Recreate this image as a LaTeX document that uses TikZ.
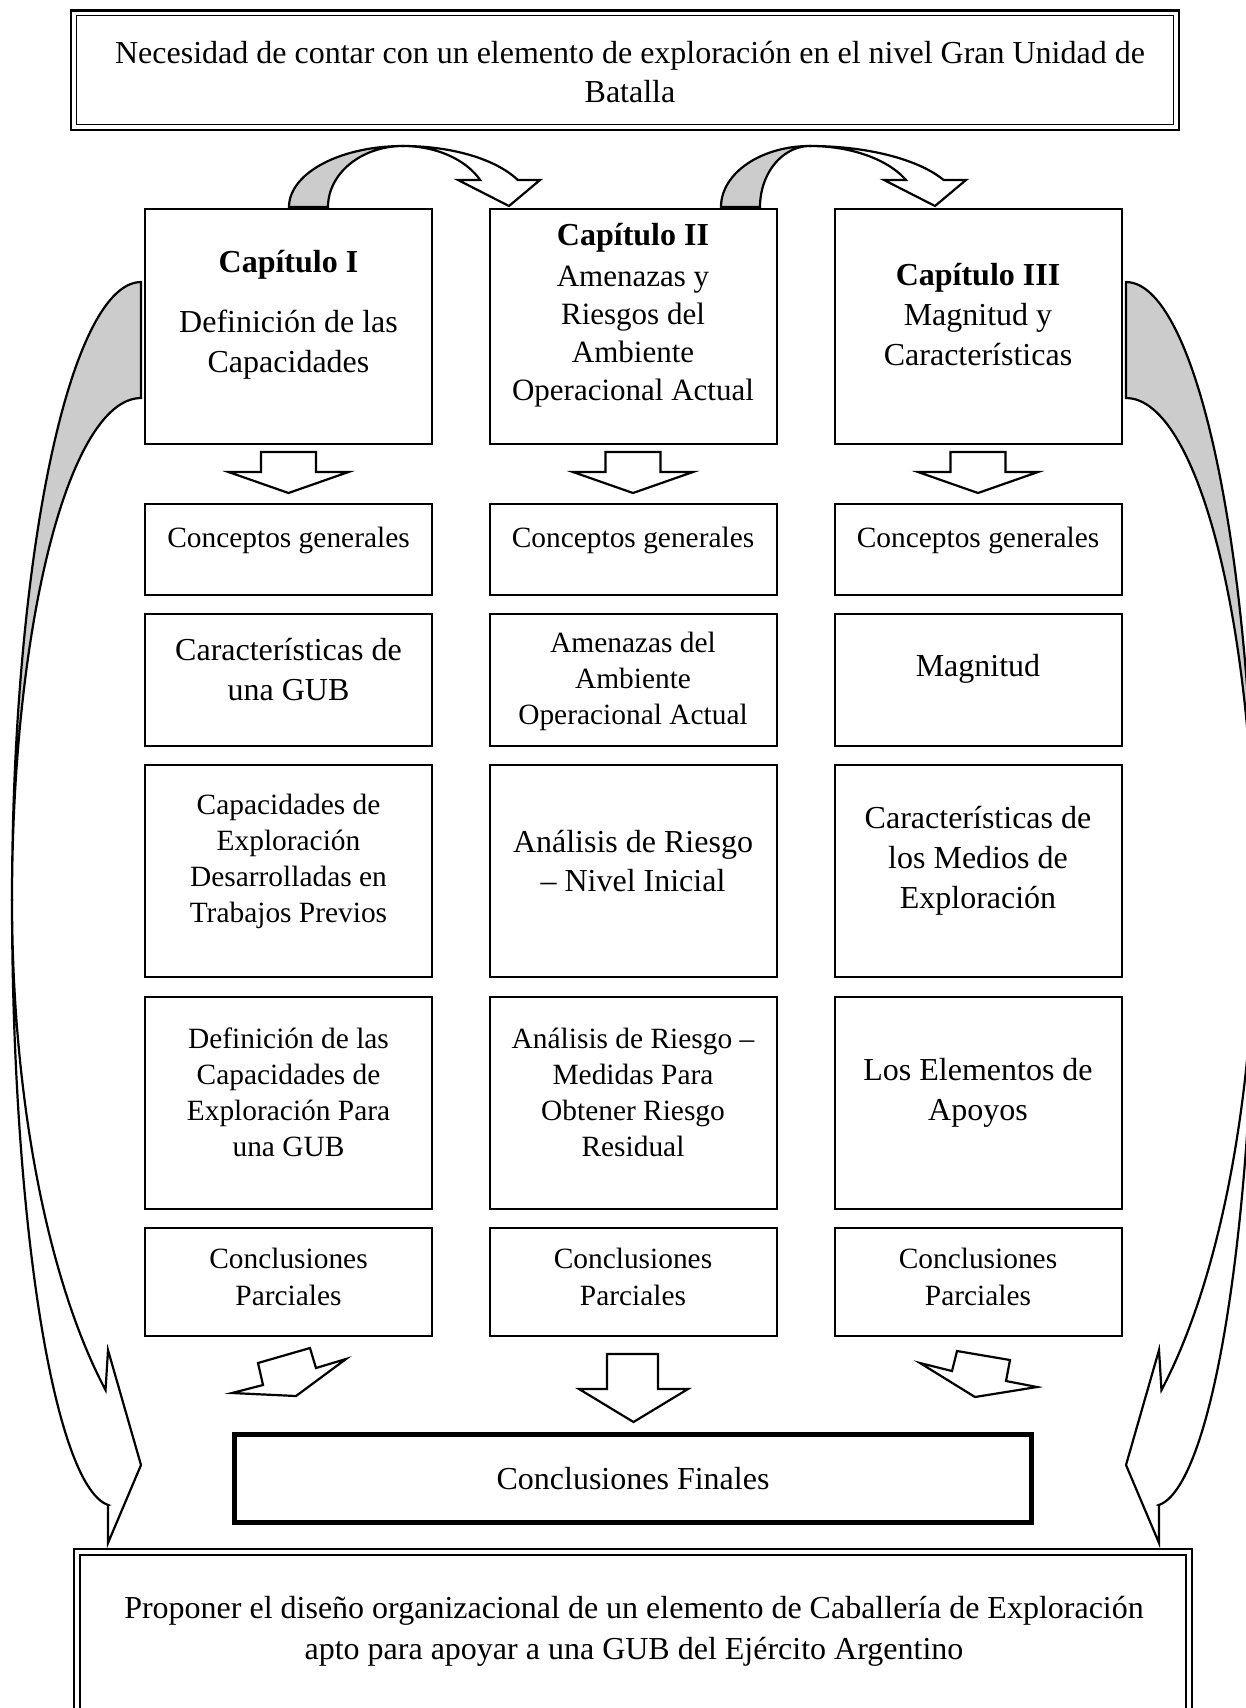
\documentclass[tikz,border=0pt]{standalone}
\usepackage{fontspec}
\setmainfont{Liberation Serif}
\definecolor{shade}{HTML}{CCCCCC}
\tikzset{
  box/.style={draw, line width=1pt, minimum width=143.5pt, inner sep=0pt, outer sep=0pt},
  txt/.style={align=center, inner sep=0pt},
  big/.style={font=\fontsize{16pt}{20pt}\selectfont},
  sml/.style={font=\fontsize{14.7pt}{18pt}\selectfont},
  blk/.style={draw, line width=1.1pt, fill=white, line join=miter},
  back/.style={draw, line width=1.1pt, fill=shade, line join=miter},
}
\newcommand\mysideband{%
  \filldraw[back] (141,282) -- plot[domain=90:0, samples=60] ({141-129*cos(\x)},{900-618*sin(\x)}) -- plot[domain=0:90, samples=60] ({141-129*cos(\x)},{900-502*sin(\x)}) -- cycle;
  \filldraw[blk] plot[domain=0:55.6, samples=60] ({227-215*cos(\x)},{900+594*sin(\x)}) -- (108,1350) -- (141,1465) -- (108,1543) -- (108,1505) -- plot[domain=86.7:0, samples=60] ({114-102*cos(\x)},{900+606*sin(\x)}) -- cycle;
}
\begin{document}
\begin{tikzpicture}[x=0.5pt, y=-0.5pt]
\useasboundingbox (0,0) rectangle (1246,1708);
\clip (0,0) rectangle (1246,1708);

% ---- top box (double border)
\node[draw, line width=1.3pt, inner sep=0pt, outer sep=0pt, minimum width=554pt, minimum height=59.75pt] (top) at (625,70.25) {};
\draw[line width=0.5pt] ([shift={(2.6pt,-2.6pt)}]top.north west) rectangle ([shift={(-2.6pt,2.6pt)}]top.south east);
\node[txt, font=\fontsize{16pt}{19.5pt}\selectfont] (toptxt) at (630,72) {Necesidad de contar con un elemento de exploración en el nivel Gran Unidad de\\Batalla};

% ---- chapter boxes
\node[box, minimum height=117.5pt] (c1) at (288.5,326.5) {};
\node[box, minimum height=117.5pt] (c2) at (633,326.5) {};
\node[box, minimum height=117.5pt] (c3) at (978,326.5) {};
\node[txt, big] (c1t) at (288.5,315) {\textbf{Capítulo I}\\[10pt]Definición de las\\Capacidades};
\node[txt, font=\fontsize{15.5pt}{19pt}\selectfont] (c2t) at (633,315) {\fontsize{16pt}{19pt}\selectfont\textbf{Capítulo II}\\[1.5pt]Amenazas y\\Riesgos del\\Ambiente\\Operacional Actual};
\node[txt, big] (c3t) at (978,315) {\textbf{Capítulo III}\\Magnitud y\\Características};

% ---- row: conceptos generales
\node[box, minimum height=45.5pt] (k1) at (288.5,549.5) {};
\node[box, minimum height=45.5pt] (k2) at (633,549.5) {};
\node[box, minimum height=45.5pt] (k3) at (978,549.5) {};
\node[txt, sml] (k1t) at (288.5,540) {Conceptos generales};
\node[txt, sml] (k2t) at (633,540) {Conceptos generales};
\node[txt, sml] (k3t) at (978,540) {Conceptos generales};

% ---- row 2
\node[box, minimum height=66pt] (r21) at (288.5,680) {};
\node[box, minimum height=66pt] (r22) at (633,680) {};
\node[box, minimum height=66pt] (r23) at (978,680) {};
\node[txt, big] (r21t) at (288.5,670) {Características de\\una GUB};
\node[txt, sml] (r22t) at (633,681) {Amenazas del\\Ambiente\\Operacional Actual};
\node[txt, big] (r23t) at (978,669) {Magnitud};

% ---- row 3
\node[box, minimum height=106pt] (r31) at (288.5,871) {};
\node[box, minimum height=106pt] (r32) at (633,871) {};
\node[box, minimum height=106pt] (r33) at (978,871) {};
\node[txt, sml] (r31t) at (288.5,861) {Capacidades de\\Exploración\\Desarrolladas en\\Trabajos Previos};
\node[txt, font=\fontsize{16pt}{19.5pt}\selectfont] (r32t) at (633,861) {Análisis de Riesgo\\– Nivel Inicial};
\node[txt, big] (r33t) at (978,861) {Características de\\los Medios de\\Exploración};

% ---- row 4
\node[box, minimum height=106pt] (r41) at (288.5,1103) {};
\node[box, minimum height=106pt] (r42) at (633,1103) {};
\node[box, minimum height=106pt] (r43) at (978,1103) {};
\node[txt, sml] (r41t) at (288.5,1092.5) {Definición de las\\Capacidades de\\Exploración Para\\una GUB};
\node[txt, sml] (r42t) at (633,1092.5) {Análisis de Riesgo –\\Medidas Para\\Obtener Riesgo\\Residual};
\node[txt, big] (r43t) at (978,1092.5) {Los Elementos de\\Apoyos};

% ---- conclusiones parciales
\node[box, minimum height=54pt] (p1) at (288.5,1282) {};
\node[box, minimum height=54pt] (p2) at (633,1282) {};
\node[box, minimum height=54pt] (p3) at (978,1282) {};
\node[txt, font=\fontsize{14.7pt}{18.5pt}\selectfont] (p1t) at (288.5,1276.5) {Conclusiones\\Parciales};
\node[txt, font=\fontsize{14.7pt}{18.5pt}\selectfont] (p2t) at (633,1276.5) {Conclusiones\\Parciales};
\node[txt, font=\fontsize{14.7pt}{18.5pt}\selectfont] (p3t) at (978,1276.5) {Conclusiones\\Parciales};

% ---- conclusiones finales
\node[draw, line width=2.5pt, outer sep=0pt, minimum width=398.5pt, minimum height=44pt, big] (cf) at (633,1478.5) {Conclusiones Finales};

% ---- bottom box (double border, cut by the page)
\draw[line width=1pt] (74,1730) -- (74,1549) -- (1192,1549) -- (1192,1730);
\draw[line width=0.8pt] (80,1730) -- (80,1555) -- (1186,1555) -- (1186,1730);
\node[txt, font=\fontsize{16pt}{20.5pt}\selectfont] (bottxt) at (634,1631.5) {Proponer el diseño organizacional de un elemento de Caballería de Exploración\\apto para apoyar a una GUB del Ejército Argentino};

% ---- block down arrows under chapter boxes
\foreach \cx in {288.5,633,978}{
  \draw[blk] (\cx-27.5,452) -- (\cx+27.5,452) -- (\cx+27.5,472) -- (\cx+60,472) -- (\cx,493) -- (\cx-60,472) -- (\cx-27.5,472) -- cycle;
}

% ---- bottom block arrows
\draw[blk] (258,1363) -- (310,1348) -- (316,1368) -- (346,1359) -- (296,1396) -- (232,1393) -- (263,1385) -- cycle;
\draw[blk] (607,1354) -- (658,1354) -- (658,1389) -- (688,1389) -- (633.5,1422) -- (579,1389) -- (607,1389) -- cycle;
\draw[blk] (957,1351) -- (1010,1360) -- (1006,1381) -- (1037,1387) -- (975,1397) -- (920,1363) -- (952,1371) -- cycle;

% ---- top curved arrow 1 (Cap I -> Cap II)
\filldraw[back] plot[domain=0:90, samples=40] ({403-114*cos(\x)},{207-61*sin(\x)}) -- plot[domain=90:0, samples=40] ({403-75*cos(\x)},{207-61*sin(\x)}) -- cycle;
\filldraw[blk] plot[domain=90:26.28, samples=40] ({403+128*cos(\x)},{207-61*sin(\x)}) -- (540,180) -- (509,206) -- (458,180) -- plot[domain=26.28:90, samples=40] ({403+86*cos(\x)},{207-61*sin(\x)}) -- cycle;

% ---- top curved arrow 2 (Cap II -> Cap III)
\filldraw[back] plot[domain=0:90, samples=40] ({810-89*cos(\x)},{207-61*sin(\x)}) -- plot[domain=90:0, samples=40] ({810-50*cos(\x)},{207-61*sin(\x)}) -- cycle;
\filldraw[blk] plot[domain=90:26.28, samples=40] ({810+149*cos(\x)},{207-61*sin(\x)}) -- (966,180) -- (935,206) -- (884,180) -- plot[domain=26.28:90, samples=40] ({810+107*cos(\x)},{207-61*sin(\x)}) -- cycle;

% ---- side curved arrows (left, and its mirror on the right)
\begin{scope}
  \mysideband
\end{scope}
\begin{scope}[shift={(1267,0)}, xscale=-1]
  \mysideband
\end{scope}
\end{tikzpicture}
\end{document}
